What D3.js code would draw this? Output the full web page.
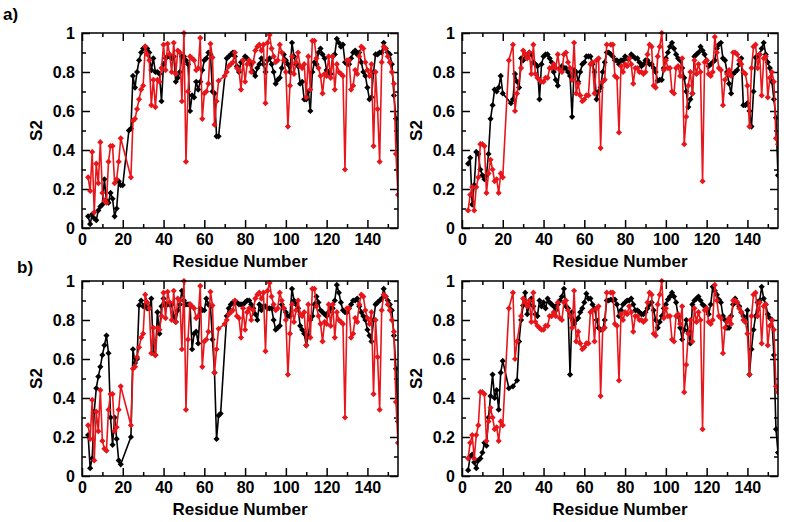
<!DOCTYPE html>
<html>
<head>
<meta charset="utf-8">
<script src="https://cdn.jsdelivr.net/npm/d3@7"></script>
<style>
  body { margin: 0; background: #fff; }
  text { font-family: "Liberation Sans", Arial, sans-serif; font-weight: bold; fill: #000; }
</style>
</head>
<body>
<div id="chart"></div>
<script>
// residue numbers on the x axis (3..155)
const residues = d3.range(3, 156);
const xTicks = [0, 20, 40, 60, 80, 100, 120, 140];
const yTicks = [0, 0.2, 0.4, 0.6, 0.8, 1];

// red: same series in a) and b), left and right columns
const leftRed = [
  0.26, 0.19, 0.39, 0.08, 0.33, 0.23, 0.44, 0.18, 0.14, 0.13,
  0.34, 0.42, 0.42, 0.23, 0.25, 0.34, 0.46, null, null, null,
  null, 0.26, 0.55, 0.56, 0.61, 0.66, 0.71, 0.73, 0.93, 0.89,
  0.86, 0.63, 0.76, 0.62, 0.76, 0.75, 0.82, 0.94, 0.81, 0.945,
  0.89, 0.80, 0.95, 0.79, 0.91, 0.90, 0.65, 1.00, 0.34, 0.70,
  0.88, 0.87, 0.86, 0.81, 0.82, 0.975, 0.56, 0.69, 0.70, 0.74,
  0.945, 0.875, 0.53, 0.65, 0.755, null, null, 0.78, 0.80, 0.83,
  0.84, 0.85, 0.90, 0.82, 0.81, 0.71, 0.86, 0.75, 0.84, 0.86,
  0.80, 0.85, 0.91, 0.93, 0.94, 0.91, 0.94, 0.64, 0.95, 0.99,
  0.92, 0.88, 0.85, 0.86, 0.94, 0.90, 0.86, 0.80, 0.52, 0.73,
  0.88, 0.79, 0.85, 0.90, 0.83, 0.82, 0.84, 0.67, 0.88, 0.71,
  0.96, 0.96, 0.87, 0.82, 0.78, 0.69, 0.79, 0.78, 0.88, 0.77,
  0.88, 0.71, 0.84, 0.80, 0.79, 0.78, 0.30, 0.86, 0.86, 0.71,
  0.73, 0.81, 0.79, 0.88, 0.93, 0.92, 0.85, 0.81, 0.78, 0.84,
  0.42, 0.80, 0.61, 0.34, 0.85, 0.93, 0.92, 0.88, 0.85, 0.80,
  0.74, 0.38, 0.17
];

const rightRed = [
  0.09, 0.17, 0.21, 0.09, 0.21, 0.26, 0.43, 0.43, 0.42, 0.18,
  0.28, 0.35, 0.30, 0.24, 0.25, 0.18, 0.28, 0.26, null, null,
  0.86, null, 0.94, 0.60, 0.69, null, 0.82, 0.91, 0.89, 0.87,
  0.90, 0.79, 0.94, 0.79, 0.77, 0.76, 0.75, 0.75, 0.77, 0.77,
  0.82, 0.82, 0.84, 0.82, 0.89, 0.81, 0.80, 0.89, 0.90, 0.85,
  0.82, 0.76, 0.95, 0.69, 0.74, 0.68, 0.65, 0.66, 0.68, 0.68,
  0.84, 0.85, 0.69, 0.86, 0.87, 0.41, 0.75, 0.76, 0.94, null,
  0.94, 0.94, 0.78, 0.77, 0.49, 0.83, 0.80, 0.84, 0.83, 0.87,
  0.84, 0.74, 0.82, 0.82, 0.80, 0.80, 0.79, 0.80, 0.89, 0.94,
  0.93, 0.73, 0.72, 0.88, 0.93, 1.00, 0.81, 0.86, 0.82, 0.82,
  0.70, 0.69, 0.82, 0.83, 0.78, 0.87, 0.43, 0.57, 0.73, 0.80,
  0.69, 0.86, 0.79, 0.84, 0.80, 0.24, 0.85, 0.86, 0.79, 0.78,
  0.80, 0.98, 0.90, 0.82, 0.81, 0.63, 0.76, 0.79, 0.81, 0.78,
  0.90, 0.90, 0.89, 0.86, 0.84, 0.80, 0.79, 0.73, 0.52, 0.82,
  0.93, 0.94, 0.82, 0.89, 0.68, 0.87, 0.88, 0.67, 0.77, 0.80,
  0.75, 0.46, 0.43
];

// black: a) left
const aLeftBlack = [
  0.06, 0.02, 0.07, 0.05, 0.04, 0.09, 0.11, 0.12, 0.25, 0.14,
  0.13, 0.18, 0.15, 0.06, 0.10, 0.24, 0.22, 0.22, null, null,
  0.50, 0.51, 0.78, 0.72, 0.80, 0.86, 0.90, 0.92, 0.93, 0.92,
  0.90, 0.81, 0.87, 0.80, 0.80, 0.79, 0.65, 0.84, 0.87, 0.88,
  0.88, 0.87, 0.88, 0.75, 0.77, 0.80, 0.88, 0.88, 0.86, 0.84,
  0.60, 0.68, 0.67, 0.75, 0.71, 0.75, 0.81, 0.86, 0.87, 0.90,
  0.89, 0.70, 0.69, 0.47, 0.47, null, null, null, 0.87, 0.88,
  0.89, 0.90, 0.88, 0.83, 0.80, 0.85, 0.86, 0.88, 0.87, 0.85,
  0.84, 0.80, 0.78, 0.82, 0.84, 0.87, 0.84, 0.80, 0.86, 0.87,
  0.84, 0.80, 0.74, 0.76, 0.77, 0.82, 0.89, 0.86, 0.84, 0.80,
  0.95, 0.88, 0.84, 0.83, 0.74, 0.75, 0.66, 0.66, 0.70, 0.60,
  0.80, 0.85, 0.84, 0.90, 0.92, 0.89, 0.87, 0.81, 0.80, 0.79,
  0.88, 0.89, 0.97, 0.95, 0.93, 0.94, 0.85, 0.84, 0.84, 0.87,
  0.90, 0.91, 0.89, 0.90, 0.85, 0.80, 0.78, 0.72, 0.66, 0.67,
  0.80, 0.89, 0.89, 0.90, 0.90, 0.95, 0.92, 0.90, 0.89, 0.84,
  0.68, 0.56, 0.30
];

// black: a) right
const aRightBlack = [
  0.33, 0.36, 0.12, 0.22, 0.39, 0.38, 0.30, 0.27, 0.25, 0.27,
  0.38, 0.56, 0.63, 0.71, 0.70, 0.72, 0.78, 0.69, null, null,
  null, 0.64, 0.66, 0.79, 0.75, 0.72, 0.87, 0.86, 0.89, 0.88,
  0.90, 0.89, 0.85, 0.84, 0.83, 0.66, 0.84, 0.88, 0.89, 0.89,
  0.87, 0.85, 0.80, 0.76, 0.73, 0.82, 0.83, 0.82, 0.82, 0.80,
  0.78, 0.57, 0.81, 0.80, 0.75, 0.80, 0.84, 0.85, 0.88, 0.88,
  0.88, 0.84, 0.80, 0.66, 0.70, 0.72, 0.80, 0.85, 0.90, 0.90,
  0.89, 0.88, 0.86, 0.86, 0.84, 0.86, 0.86, 0.88, 0.87, 0.87,
  0.89, 0.88, 0.87, 0.87, 0.85, 0.83, 0.84, 0.86, 0.86, 0.84,
  0.84, 0.82, 0.80, 0.755, 0.76, 0.76, 0.82, 0.87, 0.90, 0.93,
  0.95, 0.92, 0.89, 0.87, 0.86, 0.82, 0.77, 0.70, 0.62, 0.66,
  0.69, 0.88, 0.89, 0.90, 0.93, 0.91, 0.89, 0.86, 0.83, 0.84,
  0.85, 0.86, 0.92, 0.94, 0.95, 0.87, 0.86, 0.80, 0.74, 0.69,
  0.79, 0.80, 0.81, 0.84, 0.87, 0.63, 0.63, 0.64, 0.60, 0.52,
  0.70, 0.875, 0.88, 0.89, 0.92, 0.95, 0.89, 0.85, 0.82, 0.75,
  0.66, 0.565, 0.27
];

// black: b) left
const bLeftBlack = [
  0.21, 0.04, 0.09, 0.33, 0.45, 0.51, 0.56, 0.62, 0.67, 0.72,
  0.63, 0.30, 0.16, 0.30, 0.19, 0.08, 0.06, null, null, null,
  null, 0.20, 0.65, 0.58, 0.60, 0.875, 0.90, 0.87, 0.88, 0.86,
  0.86, 0.91, 0.63, 0.62, 0.84, 0.73, 0.87, 0.91, 0.88, 0.88,
  0.88, 0.88, 0.82, 0.79, 0.85, 0.88, 0.95, 0.90, 0.88, 0.88,
  0.88, 0.65, 0.73, 0.74, 0.68, 0.86, 0.85, 0.85, 0.91, 0.88,
  0.87, 0.70, 0.53, 0.19, 0.31, 0.32, null, null, 0.82, 0.86,
  0.88, 0.89, 0.89, 0.89, 0.88, 0.88, 0.88, 0.89, 0.90, 0.90,
  0.88, 0.86, 0.83, 0.80, 0.88, 0.85, 0.87, 0.87, 0.86, 0.86,
  0.86, 0.80, 0.75, 0.76, 0.77, 0.88, 0.86, 0.84, 0.82, 0.82,
  0.96, 0.90, 0.88, 0.86, 0.77, 0.75, 0.73, 0.67, 0.72, 0.80,
  0.82, 0.88, 0.92, 0.89, 0.85, 0.84, 0.83, 0.82, 0.84, 0.86,
  0.86, 0.90, 0.98, 0.94, 0.89, 0.85, 0.84, 0.84, 0.86, 0.88,
  0.90, 0.90, 0.91, 0.87, 0.84, 0.82, 0.80, 0.75, 0.72, 0.69,
  0.80, 0.88, 0.89, 0.90, 0.91, 0.96, 0.92, 0.90, 0.88, 0.85,
  0.72, 0.55, 0.28
];

// black: b) right
const bRightBlack = [
  0.03, 0.10, 0.11, 0.07, 0.04, 0.08, 0.09, 0.12, 0.17, 0.155,
  0.30, 0.41, 0.52, 0.40, 0.44, 0.34, 0.53, 0.59, null, null,
  0.45, null, 0.46, null, 0.49, 0.69, 0.80, 0.875, 0.94, 0.83,
  0.88, 0.91, 0.87, 0.83, 0.82, 0.90, 0.87, 0.89, 0.86, 0.91,
  0.89, 0.88, 0.87, 0.85, 0.88, 0.90, 0.92, 0.96, 0.87, 0.86,
  0.52, 0.84, 0.78, 0.80, 0.81, 0.84, 0.86, 0.89, 0.935, 0.91,
  0.91, 0.88, 0.86, 0.80, 0.76, 0.75, 0.75, 0.80, 0.90, 0.90,
  0.905, 0.90, 0.905, 0.88, 0.82, 0.85, 0.88, 0.89, 0.90, 0.90,
  0.91, 0.88, 0.85, 0.85, 0.84, 0.83, 0.83, 0.84, 0.86, 0.88,
  0.89, 0.85, 0.80, 0.76, 0.79, 0.82, 0.86, 0.88, 0.905, 0.92,
  0.94, 0.92, 0.89, 0.82, 0.76, 0.70, 0.75, 0.80, 0.74, 0.68,
  0.88, 0.90, 0.91, 0.92, 0.90, 0.88, 0.87, 0.85, 0.83, 0.88,
  0.97, 0.95, 0.93, 0.905, 0.89, 0.82, 0.80, 0.76, 0.76, 0.82,
  0.88, 0.91, 0.89, 0.87, 0.84, 0.82, 0.79, 0.85, 0.52, 0.65,
  0.75, 0.82, 0.89, 0.90, 0.97, 0.91, 0.88, 0.83, 0.81, 0.80,
  0.62, 0.24, 0.12
];

// page layout
const W = 788, H = 522;
const pw = 316, ph = 195;
const panels = [
  {x: 82,  y: 33,  black: aLeftBlack,  red: leftRed},
  {x: 462, y: 33,  black: aRightBlack, red: rightRed},
  {x: 82,  y: 281, black: bLeftBlack,  red: leftRed},
  {x: 462, y: 281, black: bRightBlack, red: rightRed}
];
const redColor = "#e8161b";

const svg = d3.select("#chart").append("svg")
    .attr("width", W)
    .attr("height", H);

// panel letters
svg.append("text").attr("x", 3).attr("y", 20).style("font-size", "17px").text("a)");
svg.append("text").attr("x", 17).attr("y", 273).style("font-size", "17px").text("b)");

const diamond = d3.symbol().type(d3.symbolSquare).size(19);

panels.forEach(p => {
  const g = svg.append("g").attr("transform", `translate(${p.x},${p.y})`);

  const x = d3.scaleLinear().domain([0, 155]).range([0, pw]);
  const y = d3.scaleLinear().domain([0, 1]).range([ph, 0]);

  const xMinor = d3.range(10, 155, 20);
  const yMinor = [0.1, 0.3, 0.5, 0.7, 0.9];

  // bottom axis with labels, inward ticks
  g.append("g")
    .attr("transform", `translate(0,${ph})`)
    .call(d3.axisBottom(x).tickValues(xTicks).tickSize(-8).tickPadding(6).tickFormat(d3.format("d")))
    .call(a => a.select(".domain").remove())
    .call(a => a.selectAll("text").style("font-size", "16px"));
  g.append("g")
    .attr("transform", `translate(0,${ph})`)
    .call(d3.axisBottom(x).tickValues(xMinor).tickSize(-4).tickFormat(""))
    .call(a => a.select(".domain").remove());

  // top mirrored ticks
  g.append("g")
    .call(d3.axisTop(x).tickValues(xTicks).tickSize(-8).tickFormat(""))
    .call(a => a.select(".domain").remove());
  g.append("g")
    .call(d3.axisTop(x).tickValues(xMinor).tickSize(-4).tickFormat(""))
    .call(a => a.select(".domain").remove());

  // left axis with labels
  g.append("g")
    .call(d3.axisLeft(y).tickValues(yTicks).tickSize(-8).tickPadding(7).tickFormat(d => d3.format("~g")(d)))
    .call(a => a.select(".domain").remove())
    .call(a => a.selectAll("text").style("font-size", "16px"));
  g.append("g")
    .call(d3.axisLeft(y).tickValues(yMinor).tickSize(-4).tickFormat(""))
    .call(a => a.select(".domain").remove());

  // right mirrored ticks
  g.append("g")
    .attr("transform", `translate(${pw},0)`)
    .call(d3.axisRight(y).tickValues(yTicks).tickSize(-8).tickFormat(""))
    .call(a => a.select(".domain").remove());
  g.append("g")
    .attr("transform", `translate(${pw},0)`)
    .call(d3.axisRight(y).tickValues(yMinor).tickSize(-4).tickFormat(""))
    .call(a => a.select(".domain").remove());

  g.selectAll(".tick line").attr("stroke", "#000").attr("stroke-width", 1.5);

  // clip series to the frame
  const clipId = `clip-${p.x}-${p.y}`;
  g.append("clipPath").attr("id", clipId)
    .append("rect").attr("x", -3).attr("y", -3).attr("width", pw + 3).attr("height", ph + 6);

  const plot = g.append("g").attr("clip-path", `url(#${clipId})`);

  const line = d3.line().x(d => x(d.r)).y(d => y(d.v));

  [[p.black, "#000"], [p.red, redColor]].forEach(([vals, color]) => {
    const pts = residues.map((r, i) => ({r: r, v: vals[i]})).filter(d => d.v != null);
    plot.append("path")
      .datum(pts)
      .attr("fill", "none")
      .attr("stroke", color)
      .attr("stroke-width", 1.6)
      .attr("stroke-linejoin", "round")
      .attr("d", line);
    plot.selectAll(null)
      .data(pts)
      .enter().append("path")
      .attr("d", diamond)
      .attr("fill", color)
      .attr("transform", d => `translate(${x(d.r)},${y(d.v)}) rotate(45)`);
  });

  // frame
  g.append("rect")
    .attr("width", pw)
    .attr("height", ph)
    .attr("fill", "none")
    .attr("stroke", "#000")
    .attr("stroke-width", 1.5);

  // axis titles
  g.append("text")
    .attr("x", pw / 2)
    .attr("y", ph + 39)
    .attr("text-anchor", "middle")
    .style("font-size", "17px")
    .text("Residue Number");
  g.append("text")
    .attr("transform", `translate(-40,${ph / 2}) rotate(-90)`)
    .attr("text-anchor", "middle")
    .style("font-size", "17px")
    .text("S2");
});
</script>
</body>
</html>
